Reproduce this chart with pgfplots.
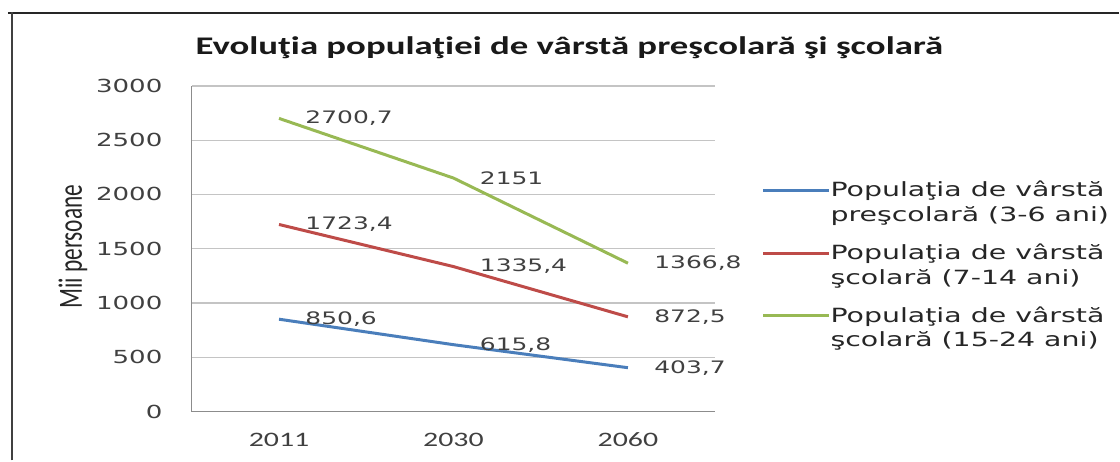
\documentclass[border=0pt]{standalone}
\usepackage{fontspec}
\usepackage{pgfplots}
\usepackage{pgfplotstable}
\pgfplotsset{compat=1.18}
\newfontfamily\dv[FakeStretch=1.45]{DejaVu Sans}
\newfontfamily\cb[FakeStretch=1.45]{Carlito}
\newfontfamily\cbn{Carlito}
\definecolor{cblue}{HTML}{4A7EBB}
\definecolor{cred}{HTML}{BE4B48}
\definecolor{cgreen}{HTML}{98B954}
\definecolor{gridc}{HTML}{C4C4C4}
\definecolor{txt}{HTML}{404040}

\pgfplotstableread{
x y lab
0 850.6 850,6
1 615.8 615,8
2 403.7 403,7
}\presc
\pgfplotstableread{
x y lab
0 1723.4 1723,4
1 1335.4 1335,4
2 872.5 872,5
}\scolA
\pgfplotstableread{
x y lab
0 2700.7 2700,7
1 2151 2151
2 1366.8 1366,8
}\scolB

\begin{document}
\begin{tikzpicture}[x=1pt,y=1pt]
\path (0,0) rectangle (560,230.5);
\draw[line width=1.3pt, black!85] (4,224) -- (560,224);
\draw[line width=1.3pt, black!75] (6,0) -- (6,224.6);
\node[font=\cb\bfseries\fontsize{12.7}{14}\selectfont, text=black!90] at (285,206.5) {Evoluţia populaţiei de vârstă preşcolară şi şcolară};
\node[text=black!85, inner sep=0pt] at (36.5,107) {\scalebox{1.45}[1]{\rotatebox{90}{\cbn\fontsize{11.7}{13}\selectfont Mii persoane}}};
\begin{axis}[
  at={(96pt,24.5pt)}, anchor=south west, scale only axis,
  width=262pt, height=163pt,
  xmin=-0.5, xmax=2.5, ymin=0, ymax=3000,
  xtick={0,1,2}, xticklabels={2011,2030,2060},
  ytick={0,500,1000,1500,2000,2500,3000},
  yticklabels={0,500,1000,1500,2000,2500,3000},
  ymajorgrids, grid style={gridc, line width=0.6pt},
  axis x line*=bottom, axis y line*=left,
  axis line style={draw=gray!90, line width=0.6pt},
  tick style={draw=none},
  xticklabel style={font=\cb\fontsize{10.3}{12}\selectfont, text=txt, anchor=center, inner sep=0pt, yshift=-14pt},
  yticklabel style={font=\dv\fontsize{9}{10}\selectfont, text=txt, anchor=east, inner sep=0pt, xshift=-14.5pt},
  point meta=explicit symbolic,
  nodes near coords,
  every node near coord/.append style={anchor=west, inner sep=0pt, xshift=12.5pt, font=\dv\fontsize{8.6}{10}\selectfont, text=txt},
  legend style={at={(axis description cs:1.0765,0.721)}, anchor=north west, draw=none, fill=none,
    font=\dv\fontsize{9.8}{12.5}\selectfont, text=black!85,
    nodes={align=left, inner sep=0pt}, row sep=9.5pt, column sep=0pt},
  legend cell align=left,
  legend image code/.code={\draw[#1, line width=1.5pt] (0pt,6.25pt) -- (33pt,6.25pt);},
]
\addplot[cblue, line width=1.5pt] table[x=x, y=y, meta=lab] {\presc};
\addplot[cred, line width=1.5pt] table[x=x, y=y, meta=lab] {\scolA};
\addplot[cgreen, line width=1.5pt] table[x=x, y=y, meta=lab] {\scolB};
\legend{{Populaţia de vârstă\\preşcolară (3-6 ani)},{Populaţia de vârstă\\şcolară (7-14 ani)},{Populaţia de vârstă\\şcolară (15-24 ani)}}
\end{axis}
\end{tikzpicture}
\end{document}
